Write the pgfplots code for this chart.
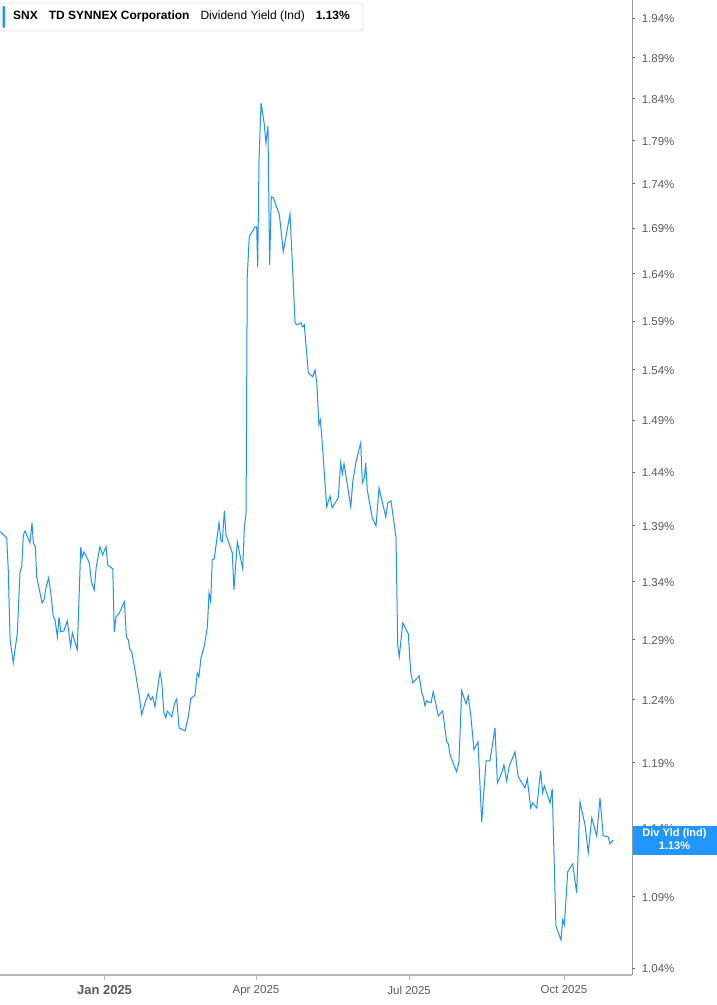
\documentclass[border=0pt]{standalone}
\usepackage{pgfplots}
\pgfplotsset{compat=1.18}
\usepackage{pgfplotstable}
\usepackage{fontspec}
\setmainfont{Liberation Sans}
\definecolor{lineblue}{RGB}{30,144,255}
\definecolor{boxblue}{RGB}{33,150,255}
\definecolor{ticktext}{RGB}{90,90,90}
\definecolor{axisgray}{RGB}{185,185,185}
\definecolor{yaxisgray}{RGB}{150,150,150}

\pgfplotstableread{
d v
-62.1 1.3848
-58.1 1.3791
-57.2 1.3504
-56.1 1.2898
-54.2 1.2705
-51.8 1.2958
-50.2 1.3486
-49.2 1.3531
-48.2 1.3818
-47.2 1.3854
-44.3 1.3746
-43.1 1.3927
-42.3 1.3746
-41.1 1.3710
-40.3 1.3442
-37.1 1.3215
-35.9 1.3241
-34.8 1.3346
-33.2 1.3434
-32.0 1.3311
-30.4 1.3094
-29.4 1.3068
-28.0 1.2924
-27.0 1.3094
-26.0 1.2966
-24.1 1.2975
-22.1 1.3059
-20.1 1.2839
-19.1 1.2958
-16.2 1.2814
-14.1 1.3710
-13.4 1.3611
-12.2 1.3665
-9.0 1.3566
-7.8 1.3398
-6.1 1.3328
-5.0 1.3522
-2.7 1.3710
-1.1 1.3638
0.9 1.3710
1.9 1.3548
4.9 1.3513
5.8 1.2966
6.8 1.3094
8.8 1.3128
11.8 1.3224
13.0 1.2924
14.1 1.2898
15.1 1.2814
16.2 1.2797
18.1 1.2646
20.7 1.2425
22.1 1.2279
24.1 1.2376
26.0 1.2449
27.4 1.2400
28.6 1.2425
30.0 1.2343
31.6 1.2498
33.0 1.2629
34.0 1.2548
35.3 1.2295
36.4 1.2254
37.3 1.2311
39.9 1.2262
41.9 1.2384
42.9 1.2408
44.3 1.2174
47.8 1.2150
49.8 1.2262
51.2 1.2408
53.8 1.2441
55.1 1.2621
56.1 1.2588
57.3 1.2747
59.3 1.2847
61.1 1.3008
62.1 1.3302
63.1 1.3224
64.0 1.3593
65.2 1.3602
68.0 1.3927
69.2 1.3764
70.0 1.3755
71.2 1.4037
72.2 1.3818
75.9 1.3656
76.9 1.3328
78.9 1.3755
82.1 1.3513
83.1 1.3891
84.1 1.4018
84.8 1.6367
86.0 1.6803
89.4 1.6913
90.4 1.6913
91.0 1.6475
91.8 1.7674
93.0 1.8348
94.8 1.8108
95.9 1.7872
97.1 1.8073
98.1 1.6497
99.1 1.7250
100.3 1.7239
103.9 1.7047
106.2 1.6638
110.2 1.7058
111.8 1.6443
113.2 1.5881
114.2 1.5860
116.7 1.5881
117.8 1.5839
118.7 1.5860
121.1 1.5368
123.7 1.5328
125.1 1.5398
126.1 1.5268
127.4 1.4852
128.2 1.4901
129.0 1.4755
132.0 1.4074
134.0 1.4176
135.2 1.4065
138.9 1.4158
140.3 1.4487
141.3 1.4382
142.3 1.4477
144.3 1.4279
146.3 1.4074
147.5 1.4307
149.4 1.4496
152.2 1.4678
153.2 1.4298
154.4 1.4345
155.2 1.4487
156.1 1.4232
159.1 1.3973
161.3 1.3900
163.1 1.4251
167.1 1.3982
168.3 1.4111
170.2 1.4130
173.2 1.3791
174.2 1.2856
175.1 1.2755
177.2 1.3042
180.5 1.2949
181.9 1.2629
183.1 1.2539
187.0 1.2597
188.5 1.2457
189.4 1.2425
190.4 1.2351
191.4 1.2392
194.0 1.2376
195.3 1.2466
198.3 1.2270
200.9 1.2311
203.3 1.2063
204.3 1.2047
205.3 1.1960
209.2 1.1828
210.6 1.1905
212.2 1.2474
214.8 1.2368
216.1 1.2433
217.7 1.2262
219.5 1.2000
221.9 1.2063
224.1 1.1446
226.7 1.1913
229.0 1.1913
232.0 1.2174
233.4 1.1743
236.0 1.1820
237.3 1.1882
238.9 1.1758
240.5 1.1874
243.9 1.1984
245.8 1.1789
249.8 1.1704
251.2 1.1774
253.2 1.1551
254.4 1.1589
256.8 1.1551
259.1 1.1835
260.3 1.1666
261.3 1.1720
264.7 1.1589
266.0 1.1697
268.2 1.0691
271.2 1.0593
272.2 1.0733
273.2 1.0698
275.2 1.1077
278.2 1.1135
280.5 1.0925
282.5 1.1597
285.5 1.1423
287.4 1.1216
289.5 1.1476
292.4 1.1342
294.4 1.1627
296.3 1.1342
299.3 1.1334
300.3 1.1282
302.3 1.1312
}\snx

\begin{document}
\begin{tikzpicture}[x=1pt,y=1pt]
\useasboundingbox (0,0) rectangle (717,1005);
\begin{axis}[
  at={(0pt,30pt)}, anchor=south west,
  width=632pt, height=975pt, scale only axis,
  ymode=log,
  xmin=-62.1, xmax=313.4, ymin=1.0352, ymax=1.963,
  axis x line*=bottom, axis y line*=right,
  x axis line style={-, draw=axisgray, line width=1.6pt},
  y axis line style={-, draw=yaxisgray, line width=1pt},
  tick align=outside,
  xtick={0,90,181,273},
  xticklabels={{\fontsize{13}{15}\selectfont\bfseries Jan 2025}, Apr 2025, Jul 2025, Oct 2025},
  xtick style={draw=axisgray, line width=1pt, /pgfplots/major tick length=5pt},
  xticklabel style={font=\fontsize{11.5}{13}\selectfont, text=ticktext, anchor=north, yshift=-3pt},
  ytick={1.04,1.09,1.14,1.19,1.24,1.29,1.34,1.39,1.44,1.49,1.54,1.59,1.64,1.69,1.74,1.79,1.84,1.89,1.94},
  yticklabels={1.04\%,1.09\%,1.14\%,1.19\%,1.24\%,1.29\%,1.34\%,1.39\%,1.44\%,1.49\%,1.54\%,1.59\%,1.64\%,1.69\%,1.74\%,1.79\%,1.84\%,1.89\%,1.94\%},
  minor ytick={},
  ytick style={draw=ticktext, line width=0.8pt, /pgfplots/major tick length=3pt},
  yticklabel style={font=\fontsize{11.5}{13}\selectfont, text=ticktext, anchor=west, xshift=2pt, yshift=-1pt},
  clip=true,
]
\addplot[lineblue, line width=1pt, no markers] table[x=d, y=v]{\snx};
\end{axis}
% title box
\draw[gray!20, fill=white, rounded corners=3pt, line width=0.8pt] (1,974) rectangle (363,1002);
\fill[lineblue, rounded corners=1pt] (2.5,977) rectangle (5,999);
\node[anchor=west, inner sep=0pt, font=\fontsize{12}{14}\selectfont] at (13,988.5)
  {\textbf{SNX}\hspace{11pt}\textbf{TD SYNNEX Corporation}\hspace{11pt}Dividend Yield (Ind)\hspace{11pt}\textbf{1.13\%}};
% value box
\fill[boxblue] (632.5,150) rectangle (717,179);
\node[text=white, font=\fontsize{11}{12}\selectfont\bfseries, inner sep=0pt] at (674.5,171) {Div Yld (Ind)};
\node[text=white, font=\fontsize{11}{12}\selectfont\bfseries, inner sep=0pt] at (674.5,159) {1.13\%};
\end{tikzpicture}
\end{document}
